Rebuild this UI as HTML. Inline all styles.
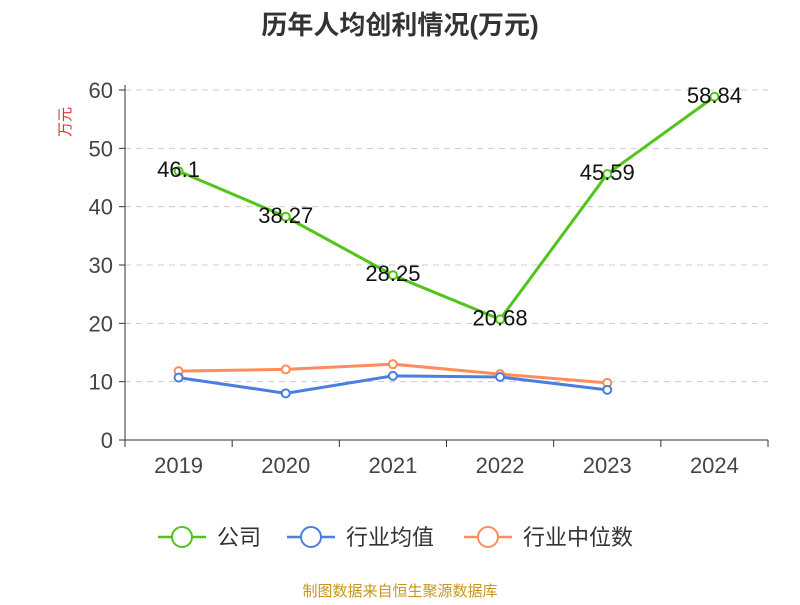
<!DOCTYPE html>
<html><head><meta charset="utf-8"><style>
body{margin:0;background:#fff;font-family:"Liberation Sans","Noto Sans CJK SC",sans-serif}
</style></head><body>
<svg width="800" height="600" xmlns="http://www.w3.org/2000/svg">
<text x="400" y="34" text-anchor="middle" font-size="26" font-weight="bold" fill="#333" font-family="Liberation Sans,Noto Sans CJK SC,sans-serif">历年人均创利情况(万元)</text>
<text x="70" y="122" font-size="15" fill="#e03030" transform="rotate(-90 70 122)" text-anchor="middle" font-family="Liberation Sans,Noto Sans CJK SC,sans-serif">万元</text>
<g id="grid"></g><g id="axes"></g><g id="series"></g>
<g font-family="Liberation Sans,Noto Sans CJK SC,sans-serif" font-size="22" fill="#333">
<g><line x1="158" y1="537" x2="206" y2="537" stroke="#52c41a" stroke-width="2.5"/><circle cx="182" cy="537" r="10" fill="#fff" stroke="#52c41a" stroke-width="2"/><text x="217" y="545">公司</text></g>
<g><line x1="287" y1="537" x2="335" y2="537" stroke="#4a7fe0" stroke-width="2.5"/><circle cx="311" cy="537" r="10" fill="#fff" stroke="#4a7fe0" stroke-width="2"/><text x="346" y="545">行业均值</text></g>
<g><line x1="464" y1="537" x2="512" y2="537" stroke="#ff8c5a" stroke-width="2.5"/><circle cx="488" cy="537" r="10" fill="#fff" stroke="#ff8c5a" stroke-width="2"/><text x="523" y="545">行业中位数</text></g>
</g>
<text x="400" y="596" text-anchor="middle" font-size="15" fill="#c8961e" font-family="Liberation Sans,Noto Sans CJK SC,sans-serif">制图数据来自恒生聚源数据库</text>
</svg>
<script>
const categories=["2019","2020","2021","2022","2023","2024"];
const companyValues=[46.1,38.27,28.25,20.68,45.59,58.84];
const industryAvg=[10.7,8.0,11.0,10.8,8.6];
const industryMedian=[11.8,12.1,13.0,11.3,9.8];
const yTicks=[0,10,20,30,40,50,60];
const NS="http://www.w3.org/2000/svg";
const x0=125,x1=768,y0=440,y1=90;
const bw=(x1-x0)/categories.length;
const xs=i=>x0+bw*(i+0.5);
const ys=v=>y0-(v/60)*(y0-y1);
function mk(tag,attrs,parent){const e=document.createElementNS(NS,tag);for(const k in attrs)e.setAttribute(k,attrs[k]);parent.appendChild(e);return e;}
const grid=document.getElementById('grid'),axes=document.getElementById('axes'),ser=document.getElementById('series');
yTicks.forEach(t=>{
 if(t>0){const g=mk('line',{x1:x0,x2:x1,y1:ys(t),y2:ys(t),stroke:'#ccc','stroke-dasharray':'6,5'},grid);
 
 }
 const tk=mk('line',{x1:x0-6,x2:x0,y1:ys(t),y2:ys(t),stroke:'#333'},axes);
 
 
 const tl=mk('text',{x:x0-12,y:ys(t)+8,'text-anchor':'end','font-size':'22',fill:'#444','font-family':'Liberation Sans,sans-serif'},axes);
 tl.textContent=t;
 
 
});
const ya=mk('line',{x1:x0,x2:x0,y1:y1-5,y2:y0,stroke:'#333'},axes);


const xa=mk('line',{x1:x0,x2:x1,y1:y0,y2:y0,stroke:'#333'},axes);


for(let i=0;i<=categories.length;i++){const t=mk('line',{x1:x0+bw*i,x2:x0+bw*i,y1:y0,y2:y0+7,stroke:'#333'},axes);
 
 }
categories.forEach((c,i)=>{const t=mk('text',{x:xs(i),y:y0+33,'text-anchor':'middle','font-size':'22',fill:'#444','font-family':'Liberation Sans,sans-serif'},axes);
 t.textContent=c;
 
 });
function series(vals,color,name,labels){
 const g=mk('g',{},ser);
 
 
 const p=mk('polyline',{points:vals.map((v,i)=>xs(i)+','+ys(v)).join(' '),fill:'none',stroke:color,'stroke-width':'3'},g);
 
 
 vals.forEach((v,i)=>{const c=mk('circle',{cx:xs(i),cy:ys(v),r:4,fill:'#fff',stroke:color,'stroke-width':'2'},g);
  
  
  if(labels){const t=mk('text',{x:xs(i),y:ys(v)+6,'text-anchor':'middle','font-size':'22',fill:'#111','font-family':'Liberation Sans,sans-serif'},g);
   t.textContent=v;
   
   }});
}
series(industryMedian,'#ff8c5a','industry-median-series',false);
series(industryAvg,'#4a7fe0','industry-avg-series',false);
series(companyValues,'#52c41a','company-series',true);
</script>
</body></html>
